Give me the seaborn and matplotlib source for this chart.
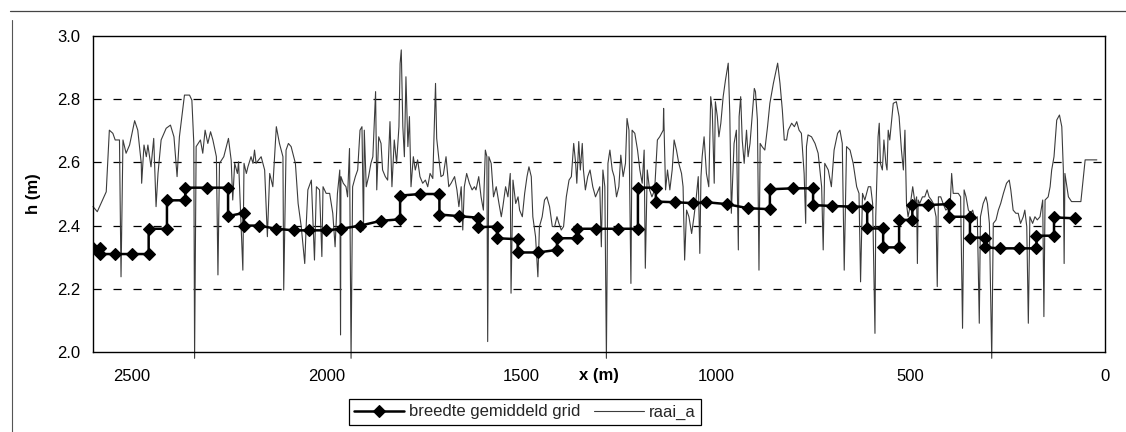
import matplotlib
matplotlib.use("Agg")
import matplotlib.pyplot as plt
import seaborn as sns
from matplotlib.lines import Line2D

# ---------------- data ----------------
step_x = [2600, 2581, 2581, 2543, 2501, 2457, 2457, 2410, 2410, 2363, 2363, 2308, 2253, 2253,
          2213, 2213, 2173, 2130, 2084, 2044, 2001, 1962, 1913, 1861, 1811, 1811, 1759, 1710,
          1710, 1660, 1611, 1611, 1562, 1562, 1509, 1509, 1457, 1408, 1408, 1357, 1357, 1308,
          1251, 1200, 1200, 1154, 1154, 1105, 1058, 1024, 972, 917, 861, 861, 801, 750, 750,
          701, 649, 611, 611, 570, 570, 529, 529, 495, 495, 456, 401, 401, 347, 347, 308, 308,
          270, 220, 176, 176, 131, 131, 77]
step_h = [2.33, 2.33, 2.31, 2.31, 2.31, 2.31, 2.39, 2.39, 2.48, 2.48, 2.52, 2.52, 2.52, 2.43,
          2.44, 2.40, 2.40, 2.39, 2.385, 2.385, 2.385, 2.39, 2.40, 2.415, 2.42, 2.495, 2.50, 2.50,
          2.435, 2.43, 2.425, 2.395, 2.397, 2.36, 2.357, 2.315, 2.315, 2.323, 2.36, 2.36, 2.39, 2.39,
          2.39, 2.39, 2.52, 2.52, 2.476, 2.474, 2.471, 2.474, 2.468, 2.455, 2.452, 2.515, 2.518, 2.518, 2.465,
          2.462, 2.46, 2.46, 2.391, 2.391, 2.331, 2.331, 2.418, 2.418, 2.465, 2.465, 2.468, 2.428, 2.428, 2.362, 2.362, 2.331,
          2.328, 2.328, 2.328, 2.368, 2.368, 2.426, 2.423]

raai_x = [
    2600, 2589, 2566, 2558, 2549, 2543, 2532, 2528, 2523, 2515,
    2506, 2493, 2485, 2476, 2475, 2469, 2463, 2459, 2451, 2444,
    2438, 2433, 2425, 2412, 2401, 2392, 2384, 2378, 2365, 2352,
    2346, 2341, 2339, 2335, 2324, 2318, 2312, 2305, 2298, 2292,
    2283, 2279, 2275, 2264, 2252, 2245, 2241, 2236, 2229, 2226,
    2215, 2212, 2206, 2202, 2194, 2189, 2185, 2181, 2175, 2168,
    2159, 2152, 2146, 2138, 2129, 2121, 2112, 2110, 2104, 2098,
    2091, 2080, 2073, 2065, 2056, 2052, 2048, 2039, 2031, 2026,
    2018, 2012, 2009, 2001, 1992, 1984, 1978, 1972, 1966, 1964,
    1963, 1957, 1950, 1946, 1941, 1937, 1933, 1926, 1920, 1914,
    1909, 1905, 1903, 1898, 1892, 1886, 1881, 1874, 1871, 1866,
    1860, 1856, 1849, 1843, 1837, 1832, 1826, 1820, 1814, 1811,
    1808, 1804, 1800, 1796, 1791, 1787, 1783, 1777, 1772, 1766,
    1760, 1753, 1746, 1740, 1734, 1727, 1720, 1717, 1712, 1706,
    1700, 1693, 1686, 1680, 1671, 1665, 1660, 1654, 1650, 1646,
    1640, 1633, 1626, 1620, 1616, 1609, 1603, 1597, 1592, 1588,
    1586, 1583, 1577, 1571, 1564, 1557, 1551, 1547, 1540, 1534,
    1528, 1526, 1521, 1514, 1508, 1504, 1497, 1491, 1485, 1480,
    1474, 1470, 1463, 1457, 1453, 1446, 1440, 1434, 1427, 1420,
    1414, 1408, 1403, 1397, 1391, 1384, 1377, 1371, 1365, 1360,
    1357, 1352, 1348, 1343, 1340, 1335, 1329, 1323, 1316, 1309,
    1298, 1294, 1290, 1285, 1281, 1277, 1272, 1266, 1261, 1255,
    1249, 1244, 1238, 1232, 1228, 1223, 1218, 1215, 1208, 1201,
    1195, 1189, 1184, 1181, 1176, 1170, 1164, 1157, 1150, 1144,
    1135, 1134, 1129, 1124, 1118, 1112, 1107, 1101, 1095, 1088,
    1084, 1080, 1075, 1069, 1062, 1056, 1050, 1045, 1041, 1038,
    1035, 1030, 1024, 1018, 1013, 1009, 1004, 1001, 996, 992,
    987, 981, 975, 968, 964, 960, 953, 947, 942, 940,
    936, 932, 927, 921, 917, 912, 908, 901, 898, 893,
    889, 886, 881, 874, 867, 861, 852, 841, 835, 829,
    824, 818, 814, 805, 798, 792, 786, 780, 773, 769,
    767, 763, 754, 745, 737, 728, 724, 720, 711, 703,
    696, 687, 681, 675, 670, 664, 655, 647, 638, 632,
    628, 623, 617, 608, 602, 597, 591, 589, 583, 580,
    577, 572, 568, 563, 560, 557, 553, 548, 544, 536,
    529, 523, 518, 514, 510, 506, 501, 494, 488, 484,
    482, 480, 476, 469, 463, 457, 452, 446, 441, 434,
    431, 428, 422, 416, 409, 398, 394, 390, 383, 377,
    371, 366, 362, 357, 351, 345, 340, 334, 328, 323,
    320, 313, 306, 302, 297, 291, 287, 280, 274, 268,
    261, 253, 246, 242, 236, 229, 223, 217, 210, 206,
    201, 197, 193, 186, 180, 174, 167, 160, 157, 154,
    146, 141, 137, 131, 124, 117, 111, 107, 105, 103,
    94, 86, 73, 62, 51, 21]
raai_h = [
    2.46, 2.444, 2.507, 2.702, 2.692, 2.671, 2.671, 2.238, 2.671, 2.629,
    2.655, 2.732, 2.702, 2.597, 2.534, 2.655, 2.618, 2.655, 2.586, 2.676,
    2.460, 2.565, 2.671, 2.708, 2.718, 2.681, 2.555, 2.681, 2.813, 2.813,
    2.797, 2.660, 1.98, 2.650, 2.671, 2.629, 2.702, 2.660, 2.697, 2.671,
    2.618, 2.244, 2.597, 2.618, 2.676, 2.607, 2.481, 2.597, 2.565, 2.602,
    2.259, 2.597, 2.565, 2.586, 2.618, 2.597, 2.639, 2.597, 2.607, 2.618,
    2.576, 2.365, 2.565, 2.523, 2.713, 2.660, 2.618, 2.196, 2.639, 2.660,
    2.650, 2.597, 2.470, 2.397, 2.280, 2.407, 2.513, 2.544, 2.291, 2.523,
    2.513, 2.302, 2.523, 2.502, 2.502, 2.439, 2.333, 2.502, 2.576, 2.054,
    2.555, 2.534, 2.523, 2.491, 2.644, 1.98, 2.523, 2.555, 2.576, 2.702,
    2.713, 2.386, 2.702, 2.523, 2.555, 2.597, 2.618, 2.824, 2.513, 2.681,
    2.660, 2.576, 2.555, 2.544, 2.729, 2.523, 2.671, 2.597, 2.713, 2.913,
    2.956, 2.713, 2.618, 2.871, 2.650, 2.745, 2.523, 2.618, 2.576, 2.608,
    2.555, 2.534, 2.544, 2.523, 2.565, 2.549, 2.850, 2.676, 2.618, 2.555,
    2.560, 2.618, 2.523, 2.534, 2.555, 2.513, 2.460, 2.523, 2.386, 2.523,
    2.565, 2.534, 2.513, 2.523, 2.513, 2.555, 2.491, 2.449, 2.639, 2.618,
    2.033, 2.618, 2.597, 2.491, 2.523, 2.470, 2.428, 2.460, 2.523, 2.491,
    2.565, 2.186, 2.544, 2.470, 2.491, 2.449, 2.428, 2.502, 2.555, 2.586,
    2.555, 2.428, 2.365, 2.238, 2.397, 2.428, 2.481, 2.491, 2.460, 2.397,
    2.397, 2.428, 2.407, 2.386, 2.397, 2.491, 2.544, 2.555, 2.660, 2.597,
    2.534, 2.666, 2.576, 2.660, 2.576, 2.513, 2.555, 2.576, 2.523, 2.491,
    2.523, 2.333, 2.576, 2.523, 1.98, 2.597, 2.639, 2.576, 2.555, 2.491,
    2.523, 2.623, 2.555, 2.597, 2.739, 2.702, 2.217, 2.702, 2.692, 2.639,
    2.576, 2.534, 2.639, 2.265, 2.576, 2.513, 2.491, 2.513, 2.671, 2.681,
    2.702, 2.771, 2.513, 2.576, 2.513, 2.576, 2.671, 2.639, 2.597, 2.565,
    2.523, 2.291, 2.449, 2.428, 2.375, 2.428, 2.491, 2.555, 2.312, 2.555,
    2.618, 2.681, 2.565, 2.523, 2.808, 2.766, 2.534, 2.792, 2.745, 2.681,
    2.724, 2.808, 2.861, 2.914, 2.755, 2.439, 2.660, 2.702, 2.323, 2.745,
    2.808, 2.671, 2.597, 2.702, 2.618, 2.660, 2.724, 2.834, 2.824, 2.734,
    2.259, 2.660, 2.650, 2.639, 2.713, 2.787, 2.850, 2.914, 2.850, 2.766,
    2.671, 2.671, 2.702, 2.724, 2.713, 2.729, 2.702, 2.692, 2.565, 2.407,
    2.650, 2.687, 2.681, 2.660, 2.629, 2.523, 2.323, 2.597, 2.576, 2.523,
    2.639, 2.692, 2.702, 2.660, 2.259, 2.650, 2.639, 2.597, 2.523, 2.502,
    2.222, 2.502, 2.481, 2.523, 2.523, 2.470, 2.059, 2.428, 2.681, 2.724,
    2.597, 2.576, 2.671, 2.597, 2.576, 2.702, 2.671, 2.734, 2.787, 2.792,
    2.745, 2.639, 2.576, 2.702, 2.470, 2.428, 2.460, 2.523, 2.470, 2.491,
    2.280, 2.481, 2.470, 2.491, 2.491, 2.513, 2.491, 2.481, 2.470, 2.428,
    2.207, 2.491, 2.491, 2.470, 2.449, 2.460, 2.565, 2.502, 2.502, 2.502,
    2.491, 2.075, 2.513, 2.491, 2.449, 2.439, 2.449, 2.418, 2.428, 2.091,
    2.428, 2.470, 2.491, 2.470, 2.407, 1.98, 2.407, 2.418, 2.449, 2.470,
    2.502, 2.534, 2.544, 2.513, 2.449, 2.439, 2.439, 2.407, 2.428, 2.449,
    2.397, 2.091, 2.428, 2.407, 2.428, 2.418, 2.428, 2.481, 2.112, 2.481,
    2.491, 2.523, 2.576, 2.618, 2.734, 2.750, 2.713, 2.576, 2.280, 2.565,
    2.491, 2.476, 2.476, 2.476, 2.608, 2.608]
assert len(raai_x) == len(raai_h)
assert len(step_x) == len(step_h)

x_ticks = [2500, 2000, 1500, 1000, 500, 0]
y_ticks = [2.0, 2.2, 2.4, 2.6, 2.8, 3.0]
grid_levels = [2.2, 2.4, 2.6, 2.8]

# ---------------- style ----------------
sns.set_theme(style="white")
plt.rcParams['font.family'] = ['Liberation Sans', 'DejaVu Sans']
FS = 12

W, H = 1126, 432
fig = plt.figure(figsize=(W / 100, H / 100), dpi=100)
fig.patch.set_facecolor('white')
ax = fig.add_axes([93 / W, 1 - 352 / H, 1012 / W, 316 / H])
ax.set_facecolor('white')

for g in grid_levels:
    ax.axhline(g, color='black', lw=0.9, ls=(0, (6.5, 9.5)), zorder=1)

sns.lineplot(x=raai_x, y=raai_h, ax=ax, sort=False, estimator=None,
             color='#3c3c3c', linewidth=0.8, label='raai_a', zorder=2, clip_on=False)
sns.lineplot(x=step_x, y=step_h, ax=ax, sort=False, estimator=None,
             color='black', linewidth=1.8, marker='D', markersize=6.4,
             markeredgecolor='black', markerfacecolor='black', markeredgewidth=0.8,
             label='breedte gemiddeld grid', zorder=3)

ax.set_xlim(2600, 0)
ax.set_ylim(2.0, 3.0)
ax.set_xticks(x_ticks)
ax.set_yticks(y_ticks)
ax.yaxis.set_major_formatter('{x:.1f}')
ax.tick_params(axis='both', which='major', direction='out', length=4, width=1,
               color='black', labelcolor='black', labelsize=FS)
ax.tick_params(axis='x', pad=8)
ax.tick_params(axis='y', pad=5)
for s in ax.spines.values():
    s.set_visible(True)
    s.set_color('black')
    s.set_linewidth(1.0)

ax.set_xlabel('x (m)', fontsize=FS, fontweight='bold', color='black')
ax.xaxis.set_label_coords(0.5, -0.05)
ax.set_ylabel('h (m)', fontsize=FS, fontweight='bold', color='black')
ax.yaxis.set_label_coords(-0.059, 0.5)
ax.yaxis.label.set_va('center')

handles, labels = ax.get_legend_handles_labels()
order = [labels.index('breedte gemiddeld grid'), labels.index('raai_a')]
leg = ax.legend([handles[i] for i in order], [labels[i] for i in order],
                loc='center', bbox_to_anchor=(525 / W, 1 - 412 / H),
                bbox_transform=fig.transFigure, ncol=2, fontsize=FS,
                frameon=True, fancybox=False, shadow=False, framealpha=1,
                edgecolor='black', handlelength=3.0, handletextpad=0.3,
                columnspacing=0.8, borderpad=0.3, borderaxespad=0)
leg.get_frame().set_linewidth(0.9)

# chart-area border (top and left edges visible in the scan)
fig.add_artist(Line2D([10 / W, 1.0], [1 - 11 / H, 1 - 11 / H], transform=fig.transFigure,
                      color='#444444', lw=0.9))
fig.add_artist(Line2D([12 / W, 12 / W], [0.0, 1 - 20 / H], transform=fig.transFigure,
                      color='#555555', lw=0.8))

fig.savefig('out.png', dpi=100, facecolor='white')
